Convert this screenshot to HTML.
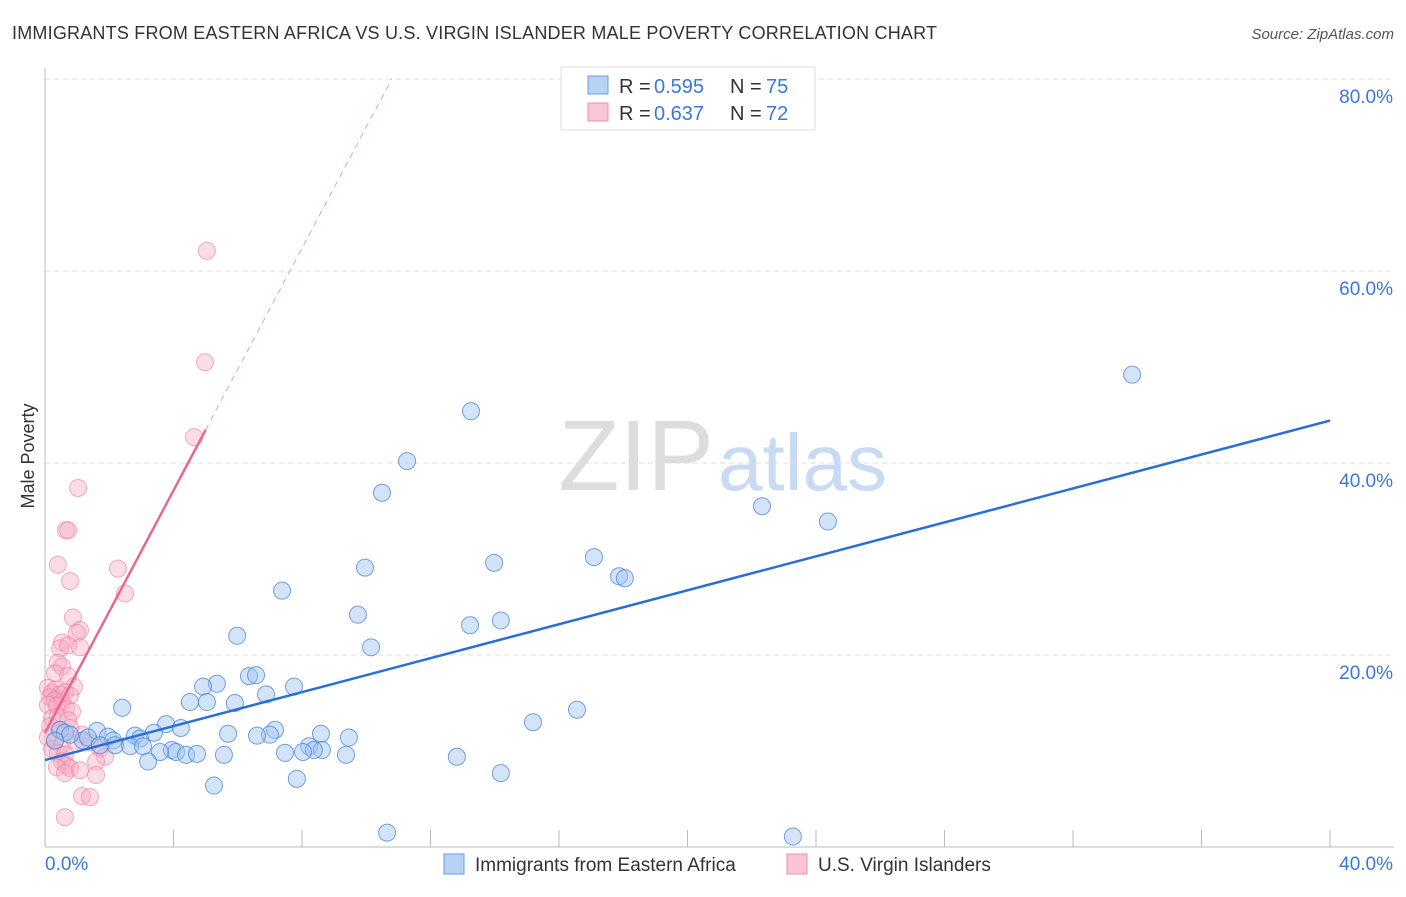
<!DOCTYPE html>
<html><head><meta charset="utf-8"><style>
body{margin:0;background:#fff;font-family:"Liberation Sans",sans-serif}
svg text{font-family:"Liberation Sans",sans-serif}
</style></head><body>
<svg id="c" width="1406" height="892" xmlns="http://www.w3.org/2000/svg">
<text x="12" y="39" font-size="18" fill="#333" textLength="925">IMMIGRANTS FROM EASTERN AFRICA VS U.S. VIRGIN ISLANDER MALE POVERTY CORRELATION CHART</text>
<text x="1394" y="39" font-size="15" fill="#555" text-anchor="end" font-style="italic">Source: ZipAtlas.com</text>
<text x="714" y="490" font-size="100" fill="#ddd" text-anchor="end" font-family="Liberation Serif">ZIP</text>
<text x="718" y="490" font-size="80" fill="#c9dbf3">atlas</text>
<g id="grid"></g><g id="marks"></g>
<text transform="translate(34,456) rotate(-90)" font-size="18" fill="#333" text-anchor="middle">Male Poverty</text>
<g>
<rect x="561" y="67" width="254" height="63" fill="#fff" stroke="#ddd"/>
<rect x="588" y="76" width="20" height="18" fill="#b7d2f5" stroke="#6a9fe0"/>
<rect x="588" y="103" width="20" height="18" fill="#fac5d5" stroke="#ef8fae"/>
<text x="619" y="93" font-size="20" fill="#333">R =</text><text x="654" y="93" font-size="20" fill="#3a78d8">0.595</text>
<text x="730" y="93" font-size="20" fill="#333">N =</text><text x="766" y="93" font-size="20" fill="#3a78d8">75</text>
<text x="619" y="120" font-size="20" fill="#333">R =</text><text x="654" y="120" font-size="20" fill="#3a78d8">0.637</text>
<text x="730" y="120" font-size="20" fill="#333">N =</text><text x="766" y="120" font-size="20" fill="#3a78d8">72</text>
</g>
<g>
<rect x="444" y="854" width="20" height="20" fill="#b7d2f5" stroke="#6a9fe0"/>
<text x="475" y="871" font-size="19" fill="#333">Immigrants from Eastern Africa</text>
<rect x="787" y="854" width="20" height="20" fill="#fac5d5" stroke="#ef8fae"/>
<text x="818" y="871" font-size="19" fill="#333">U.S. Virgin Islanders</text>
</g>
</svg>
<script>
const blueX=[33.84,13.26,11.27,10.49,22.32,24.37,17.09,13.98,9.96,17.87,18.05,7.38,9.74,14.19,13.23,5.98,10.15,6.35,6.57,5.35,4.92,7.75,6.88,4.51,5.04,5.91,2.40,16.56,15.19,3.77,1.62,4.23,7.16,7.00,8.59,3.39,5.70,1.96,2.12,2.80,2.96,6.60,9.46,2.18,1.18,1.34,1.71,2.65,8.22,3.05,8.62,8.37,3.95,4.08,3.58,7.47,8.03,4.39,4.73,5.57,9.37,12.82,3.21,14.19,7.84,5.26,10.65,23.28,0.47,0.62,0.78,0.31];
const blueY=[49.2,45.4,40.2,36.9,35.5,33.9,30.2,29.6,29.1,28.2,28.0,26.7,24.2,23.6,23.1,22.0,20.8,17.8,17.9,17.0,16.7,16.7,15.9,15.1,15.1,15.0,14.5,14.3,13.0,12.8,12.1,12.4,12.2,11.7,11.8,11.9,11.8,11.5,11.1,11.6,11.3,11.6,11.4,10.6,11.1,11.4,10.6,10.5,10.5,10.5,10.1,10.1,10.1,9.9,9.9,9.8,9.9,9.6,9.7,9.6,9.6,9.4,8.9,7.7,7.1,6.4,1.5,1.1,12.2,11.9,11.7,11.1];
const pinkX=[5.04,4.98,4.64,1.03,0.65,0.72,0.40,2.27,0.78,2.49,0.87,1.09,0.99,0.53,0.47,0.72,1.09,0.40,0.53,0.31,0.72,0.90,0.09,0.22,0.34,0.47,0.62,0.16,0.31,0.53,0.78,0.09,0.37,0.65,0.84,0.22,0.40,0.72,0.16,0.47,0.78,0.09,0.31,0.53,0.93,0.22,0.40,0.62,1.15,1.40,1.71,1.87,0.53,0.65,0.78,0.37,1.59,1.09,0.62,1.59,1.15,1.40,0.62];
const pinkY=[62.1,50.5,42.7,37.4,33.0,33.0,29.4,29.0,27.7,26.4,23.9,22.6,22.3,21.3,20.7,21.0,20.8,19.2,18.8,18.1,17.8,16.7,16.6,16.1,16.4,15.9,16.1,15.6,15.3,15.1,15.8,14.8,14.7,14.4,14.1,13.4,13.6,13.2,12.6,12.2,12.4,11.4,11.0,10.7,11.1,10.2,9.8,9.6,11.7,10.9,10.3,9.4,8.9,8.5,8.2,8.3,8.9,8.0,7.7,7.5,5.3,5.2,3.1];
const xTicks=["0.0%","40.0%"];
const yTicks=[20,40,60,80];
const blueLine=[9.06,0.884];
const pinkLine=[11.9,6.31];
const X=v=>45+v*32.125, Y=v=>847-v*9.6;
const NS="http://www.w3.org/2000/svg";
function mk(p,t,a){const e=document.createElementNS(NS,t);for(const k in a)e.setAttribute(k,a[k]);p.appendChild(e);return e;}
const g=document.getElementById('grid'), m=document.getElementById('marks');
yTicks.forEach(t=>{
 const l=mk(g,'line',{x1:45,x2:1394,y1:Y(t),y2:Y(t),stroke:'#ddd','stroke-dasharray':'5,4'});
 
 
 const tx=mk(g,'text',{x:1393,y:Y(t)+24,'font-size':19,fill:'#3a78d8','text-anchor':'end'});tx.textContent=t.toFixed(1)+'%';
 
 
});
mk(g,'line',{x1:45,x2:45,y1:68,y2:847,stroke:'#bbb'});
mk(g,'line',{x1:45,x2:1394,y1:847,y2:847,stroke:'#bbb'});
for(let i=1;i<=10;i++){const t=mk(g,'line',{x1:X(i*4),x2:X(i*4),y1:830,y2:847,stroke:'#bbb'});
 
 }
const a=mk(g,'text',{x:45,y:870,'font-size':19,fill:'#3a78d8'});a.textContent=xTicks[0];


const b=mk(g,'text',{x:1393,y:870,'font-size':19,fill:'#3a78d8','text-anchor':'end'});b.textContent=xTicks[1];


pinkX.forEach((x,i)=>{const c=mk(m,'circle',{cx:X(x),cy:Y(pinkY[i]),r:8.5,fill:'rgba(248,170,195,0.4)',stroke:'rgba(236,120,160,0.6)','stroke-width':1});
 
 });
blueX.forEach((x,i)=>{const c=mk(m,'circle',{cx:X(x),cy:Y(blueY[i]),r:8.5,fill:'rgba(160,196,240,0.45)',stroke:'rgba(70,130,220,0.75)','stroke-width':1});
 
 });
const bl=mk(m,'line',{x1:X(0),y1:Y(blueLine[0]),x2:X(40),y2:Y(blueLine[0]+40*blueLine[1]),stroke:'#2a6fd6','stroke-width':2.5});


const pl=mk(m,'line',{x1:X(0),y1:Y(pinkLine[0]),x2:X(5),y2:Y(pinkLine[0]+5*pinkLine[1]),stroke:'#e8678f','stroke-width':2.5});


const xe=(80-pinkLine[0])/pinkLine[1];
const pd=mk(m,'line',{x1:X(5),y1:Y(pinkLine[0]+5*pinkLine[1]),x2:X(xe),y2:Y(80),stroke:'#eea0b8','stroke-width':1,'stroke-dasharray':'6,5'});


</script>
</body></html>
